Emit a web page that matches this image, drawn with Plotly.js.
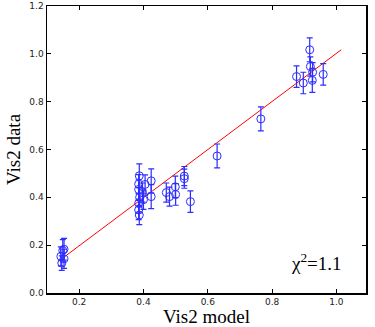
<!DOCTYPE html>
<html>
<head>
<meta charset="utf-8">
<script src="https://cdn.plot.ly/plotly-3.0.1.min.js"></script>
<style>
  html, body { margin: 0; padding: 0; background: #fff; }
  #grafica { width: 375px; height: 327px; }
</style>
</head>
<body>
<div id="grafica"></div>
<script>
// visibilidades: modelo vs datos, con barras de error
const visModelo = [
    0.143, 0.149, 0.153, 0.153, 0.146,
    0.387, 0.385, 0.385, 0.388, 0.385, 0.385, 0.387, 0.397, 0.400, 0.405, 0.424, 0.424,
    0.471, 0.481, 0.499, 0.500, 0.527, 0.527, 0.546,
    0.629, 0.765,
    0.876, 0.897, 0.917, 0.919, 0.926, 0.925, 0.959
];
const visDatos = [
    0.153, 0.178, 0.143, 0.183, 0.125,
    0.490, 0.455, 0.433, 0.400, 0.375, 0.347, 0.326, 0.420, 0.390, 0.454, 0.469, 0.403,
    0.420, 0.403, 0.444, 0.412, 0.489, 0.478, 0.382,
    0.573, 0.728,
    0.905, 0.878, 1.017, 0.947, 0.923, 0.889, 0.914
];
const visError = [
    0.040, 0.045, 0.040, 0.045, 0.030,
    0.050, 0.040, 0.040, 0.040, 0.040, 0.040, 0.040, 0.040, 0.040, 0.040, 0.050, 0.050,
    0.040, 0.040, 0.045, 0.045, 0.040, 0.040, 0.045,
    0.050, 0.050,
    0.045, 0.045, 0.050, 0.040, 0.040, 0.050, 0.045
];

// recta de ajuste
const ajusteX = [0.135, 1.015];
const ajusteY = [0.132, 1.017];

const azul = 'rgb(45,45,255)';
const fuenteSerif = 'Liberation Serif, DejaVu Serif, serif';

const trazaDatos = {
    x: visModelo,
    y: visDatos,
    mode: 'markers',
    type: 'scatter',
    marker: { symbol: 'circle-open', size: 8, color: azul, line: { width: 1, color: azul } },
    error_y: { type: 'data', array: visError, visible: true, color: azul, thickness: 1.2, width: 3 },
    hoverinfo: 'skip'
};

const trazaAjuste = {
    x: ajusteX,
    y: ajusteY,
    mode: 'lines',
    type: 'scatter',
    line: { color: 'red', width: 1 },
    hoverinfo: 'skip'
};

const ejeComun = {
    ticks: 'inside',
    ticklen: 4,
    tickcolor: '#000',
    showline: true,
    linecolor: '#000',
    linewidth: 1.5,
    mirror: 'ticks',
    showgrid: false,
    zeroline: false,
    tickfont: { family: 'DejaVu Sans, sans-serif', size: 9, color: '#222' }
};

const layout = {
    width: 375,
    height: 327,
    margin: { l: 47, r: 9, t: 6, b: 34 },
    paper_bgcolor: '#fff',
    plot_bgcolor: '#fff',
    showlegend: false,
    xaxis: Object.assign({}, ejeComun, {
        range: [0.1, 1.092],
        tickvals: [0.2, 0.4, 0.6, 0.8, 1.0],
        ticktext: ['0.2', '0.4', '0.6', '0.8', '1.0'],
        title: { text: 'Vis2 model', font: { family: fuenteSerif, size: 19, color: '#000' }, standoff: 4 }
    }),
    yaxis: Object.assign({}, ejeComun, {
        range: [0, 1.2],
        tickvals: [0, 0.2, 0.4, 0.6, 0.8, 1.0, 1.2],
        ticktext: ['0.0', '0.2', '0.4', '0.6', '0.8', '1.0', '1.2'],
        title: { text: 'Vis2 data', font: { family: fuenteSerif, size: 19, color: '#000' }, standoff: 3 }
    }),
    annotations: [{
        x: 0.938,
        y: 0.13,
        xref: 'x',
        yref: 'y',
        text: 'χ<sup>2</sup>=1.1',
        showarrow: false,
        font: { family: fuenteSerif, size: 19, color: '#000' }
    }]
};

Plotly.newPlot('grafica', [trazaAjuste, trazaDatos], layout, { staticPlot: true });
</script>
</body>
</html>
